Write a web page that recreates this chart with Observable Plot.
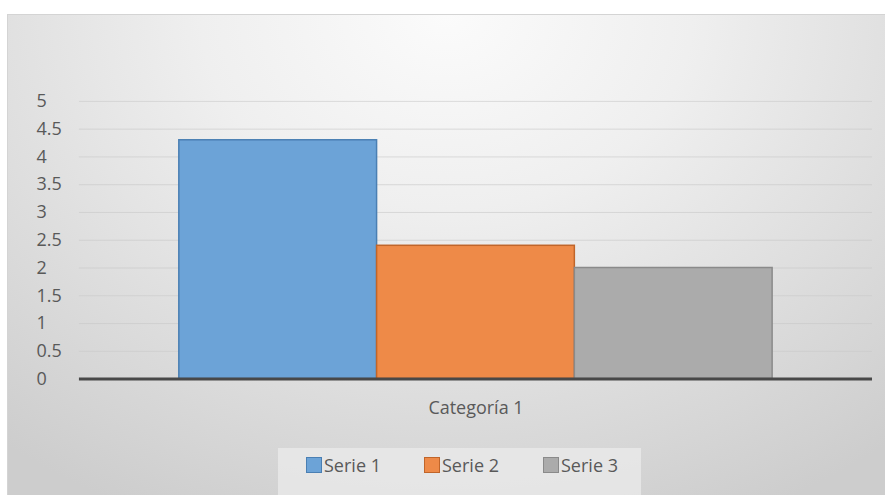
<!DOCTYPE html>
<html>
<head>
<meta charset="utf-8">
<script src="https://cdn.jsdelivr.net/npm/d3@7"></script>
<script src="https://cdn.jsdelivr.net/npm/@observablehq/plot@0.6"></script>
<style>
  html, body { margin: 0; padding: 0; background: #ffffff; }
  body { width: 885px; height: 495px; position: relative; overflow: hidden; font-family: "Open Sans", sans-serif; }
  #chart {
    position: absolute; left: 7px; top: 14px; width: 878px; height: 481px;
    box-sizing: border-box;
    border-top: 1px solid #d4d4d4; border-left: 1px solid #d4d4d4;
    background: radial-gradient(ellipse 80% 115% at 50% 0%, #fbfbfb 0%, #efefef 35%, #dadada 75%, #cdcdcd 100%);
  }
  #plot { position: absolute; left: 0; top: 0; }
  #legend {
    position: absolute; left: 270px; top: 433px; width: 363px; height: 48px;
    background: rgba(236,236,236,0.7);
  }
  .item { position: absolute; top: 5px; display: flex; align-items: center; font-size: 18px; color: #595959; }
  .sw { width: 16px; height: 16px; box-sizing: border-box; border: 1.5px solid; margin-right: 2px; }
</style>
</head>
<body>
<div id="chart">
  <div id="plot"></div>
  <div id="legend"></div>
</div>
<script>
const categories = ["Categoría 1"];
const seriesNames = ["Serie 1", "Serie 2", "Serie 3"];
const values = [4.3, 2.4, 2.0];
const yTicks = [0, 0.5, 1, 1.5, 2, 2.5, 3, 3.5, 4, 4.5, 5];
const fills = ["#6ca3d7", "#ee8a48", "#ababab"];
const strokes = ["#4a7fb3", "#c0652a", "#8a8a8a"];

const data = seriesNames.map((s, i) => ({category: categories[0], series: s, value: values[i]}));

const chart = Plot.plot({
  width: 878,
  height: 430,
  marginLeft: 71,
  marginRight: 13,
  marginTop: 86,
  marginBottom: 66,
  style: {background: "transparent", fontFamily: "Open Sans, sans-serif", fontSize: "18px", color: "#595959"},
  fx: {domain: categories, padding: 0, label: null},
  x: {domain: seriesNames, paddingInner: 0, paddingOuter: 0.5, axis: null},
  y: {domain: [0, 5], label: null},
  marks: [
    Plot.gridY(yTicks.filter(d => d > 0), {stroke: "#c8c8c8", strokeOpacity: 0.6, strokeWidth: 1}),
    Plot.axisY(yTicks, {tickSize: 0, tickPadding: 0, textAnchor: "start", dx: -43, fill: "#595959", fontSize: 18, tickFormat: d => String(d)}),
    Plot.axisFx({anchor: "bottom", tickSize: 0, tickPadding: 22, fill: "#595959", fontSize: 18, label: null}),
    Plot.barY(data, {fx: "category", x: "series", y: "value",
      fill: d => fills[seriesNames.indexOf(d.series)],
      stroke: d => strokes[seriesNames.indexOf(d.series)], strokeWidth: 1.5}),
    Plot.ruleY([0], {stroke: "#484848", strokeWidth: 3})
  ]
});
document.getElementById("plot").appendChild(chart);

const legend = document.getElementById("legend");
const legendX = [28, 146, 265];
seriesNames.forEach((s, i) => {
  const item = document.createElement("div");
  item.className = "item";
  item.style.left = legendX[i] + "px";
  const sw = document.createElement("div");
  sw.className = "sw";
  sw.style.background = fills[i];
  sw.style.borderColor = strokes[i];
  const t = document.createElement("span");
  t.textContent = s;
  item.appendChild(sw);
  item.appendChild(t);
  legend.appendChild(item);
});
</script>
</body>
</html>
